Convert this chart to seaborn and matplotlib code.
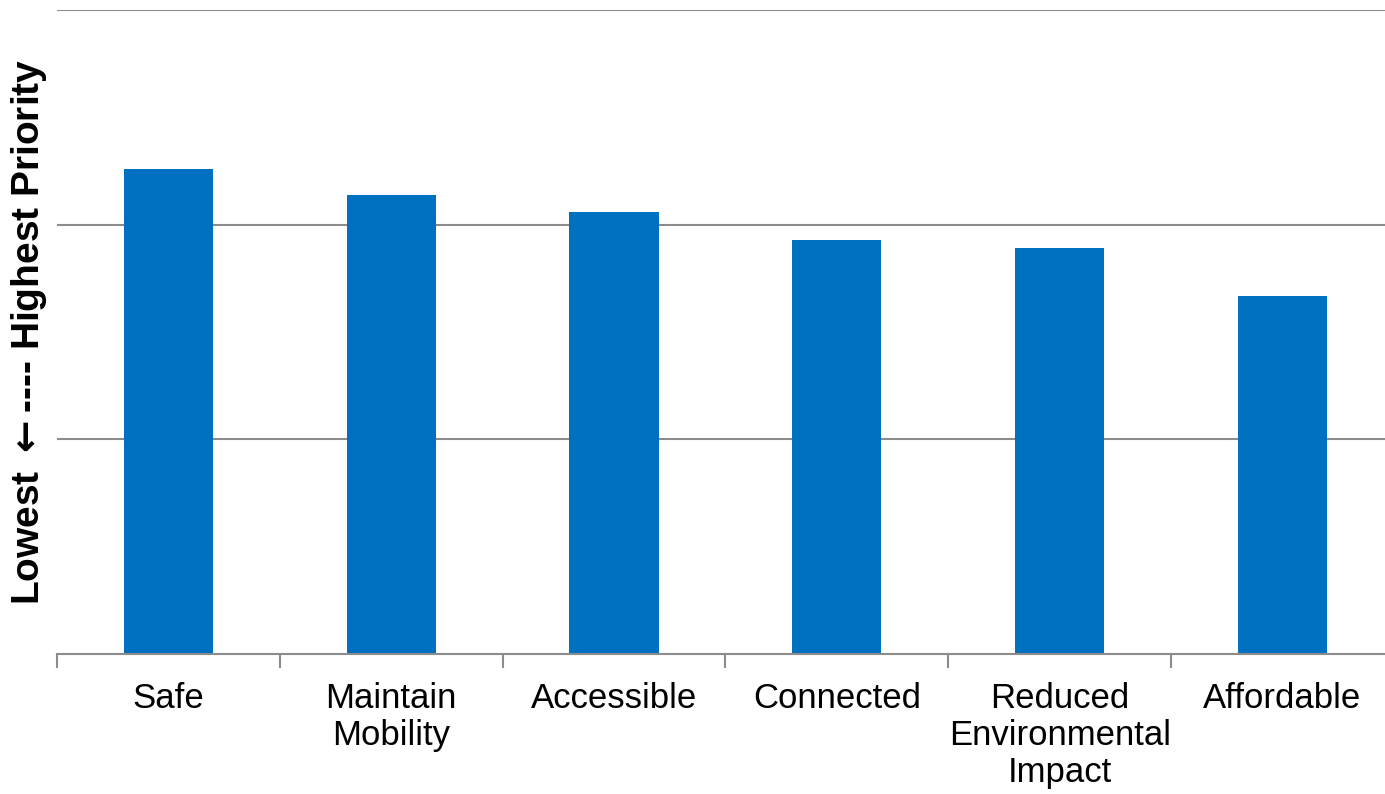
import matplotlib
matplotlib.use('Agg')
import matplotlib.pyplot as plt
import seaborn as sns
import pandas as pd
import numpy as np

sns.set_style('white')
plt.rcParams['font.family'] = ['Liberation Sans', 'DejaVu Sans']
plt.rcParams['mathtext.fontset'] = 'dejavusans'
plt.rcParams['text.color'] = 'black'
plt.rcParams['xtick.color'] = 'black'
plt.rcParams['axes.labelcolor'] = 'black'

# Priority scores
categories = ['Safe', 'Maintain\nMobility', 'Accessible', 'Connected',
              'Reduced\nEnvironmental\nImpact', 'Affordable']
scores = [2.26, 2.14, 2.06, 1.93, 1.89, 1.67]

df = pd.DataFrame({'category': categories, 'score': scores})

fig = plt.figure(figsize=(13.85, 7.94), dpi=100)
ax = fig.add_axes([57 / 1385, 140 / 794, 1 - 57 / 1385, 644 / 794])

grid_col = '#8c8c8c'
ax.set_axisbelow(True)
for y in [1, 2, 3]:
    ax.axhline(y, color=grid_col, lw=1.5, zorder=0)

sns.barplot(data=df, x='category', y='score', color='#0070C0',
            width=0.4, saturation=1, linewidth=0, edgecolor='none',
            ax=ax, zorder=2)

ax.set_ylim(0, 3)
ax.set_xlim(-0.5, 5.46)
ax.set_yticks([])
ax.set_xlabel('')
ax.set_ylabel(r'Lowest $\boldsymbol{\leftarrow}$---- Highest Priority',
              fontsize=28, fontweight='bold', labelpad=6)

# category boundaries as tick marks, labels centred without ticks
ax.set_xticks(np.arange(len(categories)))
ax.set_xticklabels(categories, fontsize=25, linespacing=1.15)
ax.set_xticks(np.arange(len(categories)) - 0.5, minor=True)
ax.tick_params(axis='x', which='major', length=0, pad=20, labelcolor='black')
ax.tick_params(axis='x', which='minor', length=10, width=1.5,
               color=grid_col, direction='out', bottom=True)

for side in ['top', 'right', 'left']:
    ax.spines[side].set_visible(False)
ax.spines['bottom'].set_color(grid_col)
ax.spines['bottom'].set_linewidth(1.5)

fig.savefig('out.png', dpi=100)
